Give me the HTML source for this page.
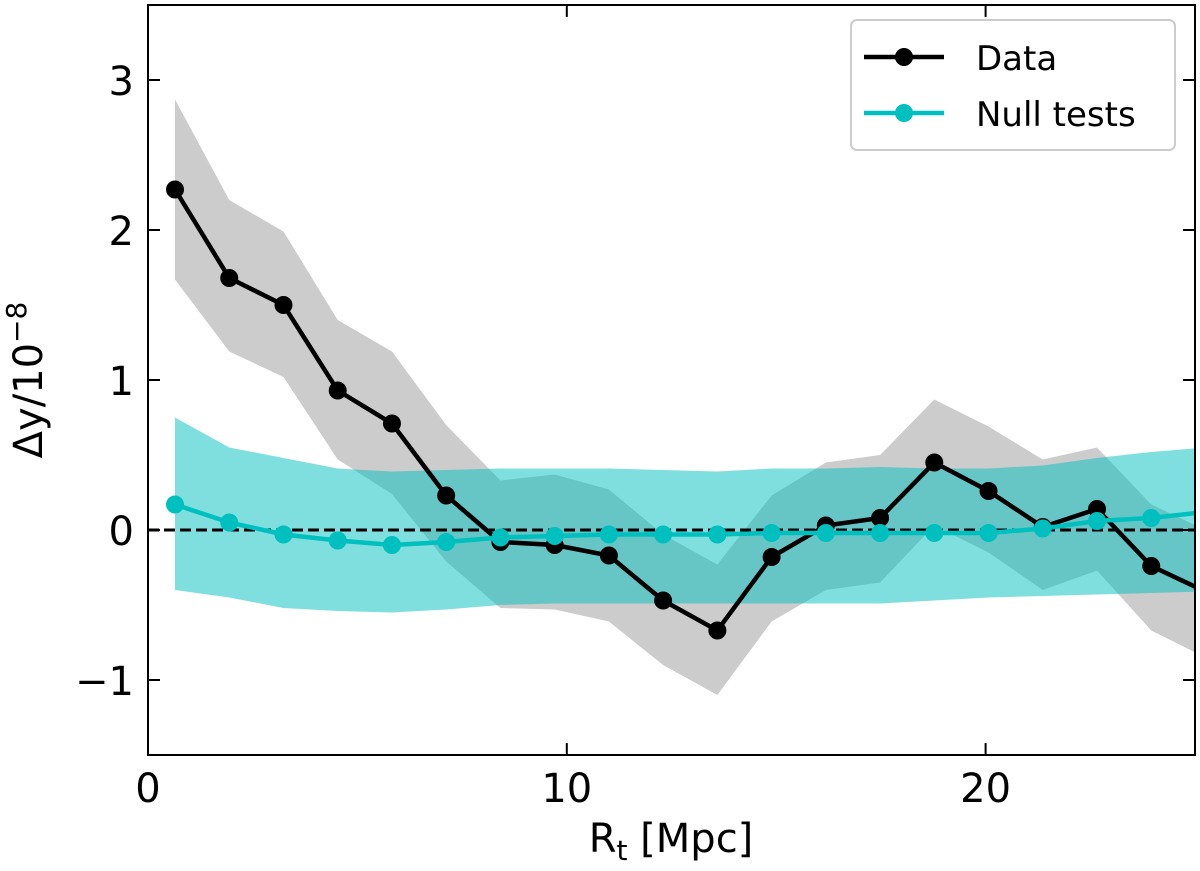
<!DOCTYPE html>
<html><head><meta charset="utf-8"><style>
body{margin:0;background:#fff;}
svg text{font-family:"DejaVu Sans","Liberation Sans",sans-serif;}
</style></head><body>
<svg id="chart" width="1200" height="866" viewBox="0 0 1200 866">
<defs><clipPath id="clip"><rect x="148" y="5" width="1047" height="750"/></clipPath></defs>
<g id="plot" clip-path="url(#clip)"></g>
<g id="axes"></g>
</svg>
<script>
const xs = [0.645,1.94,3.235,4.53,5.825,7.12,8.415,9.71,11.005,12.3,13.595,14.89,16.185,17.48,18.775,20.07,21.365,22.66,23.955,25.25];
const dataY = [2.27,1.68,1.50,0.93,0.71,0.23,-0.08,-0.10,-0.17,-0.47,-0.67,-0.18,0.03,0.08,0.45,0.26,0.02,0.14,-0.24,-0.41];
const dataHi = [2.87,2.2,1.99,1.4,1.19,0.7,0.33,0.37,0.27,-0.03,-0.23,0.23,0.45,0.5,0.87,0.69,0.47,0.55,0.17,0.0];
const dataLo = [1.67,1.19,1.02,0.47,0.24,-0.21,-0.52,-0.53,-0.61,-0.9,-1.1,-0.61,-0.4,-0.35,0.03,-0.15,-0.4,-0.27,-0.67,-0.85];
const nullY = [0.17,0.05,-0.03,-0.07,-0.1,-0.08,-0.05,-0.04,-0.03,-0.03,-0.03,-0.02,-0.02,-0.02,-0.02,-0.02,0.01,0.06,0.08,0.12];
const nullHi = [0.75,0.55,0.48,0.41,0.39,0.4,0.41,0.41,0.41,0.4,0.39,0.41,0.41,0.42,0.41,0.41,0.43,0.48,0.52,0.55];
const nullLo = [-0.4,-0.45,-0.52,-0.54,-0.55,-0.53,-0.5,-0.49,-0.49,-0.49,-0.49,-0.49,-0.49,-0.49,-0.47,-0.45,-0.44,-0.43,-0.42,-0.41];
const xTicks = [0,10,20];
const yTicks = [-1,0,1,2,3];
const yTickLabels = ["\u22121","0","1","2","3"];

const L=148,R=1195,T=5,B=755;
const X = v => L + (v-0)/(25-0)*(R-L);
const Y = v => B - (v+1.5)/(5)*(B-T);
const NS="http://www.w3.org/2000/svg";
const plot=document.getElementById('plot'), axes=document.getElementById('axes');
function mk(tag,attrs,parent){const e=document.createElementNS(NS,tag);for(const k in attrs)e.setAttribute(k,attrs[k]);parent.appendChild(e);return e;}
function band(hi,lo,fill,op,name){
  let d='M'+xs.map((x,i)=>X(x)+','+Y(hi[i])).join('L');
  for(let i=xs.length-1;i>=0;i--) d+='L'+X(xs[i])+','+Y(lo[i]);
  const p=mk('path',{d:d+'Z',fill:fill,'fill-opacity':op},plot);
  
  
}
band(dataHi,dataLo,'#000',0.2,'data-error-band');
band(nullHi,nullLo,'#00bfbf',0.5,'null-error-band');
const z=mk('line',{x1:L,x2:R,y1:Y(0),y2:Y(0),stroke:'#000','stroke-width':3,'stroke-dasharray':'11,5'},plot);


function series(ys,color,name){
  const l=mk('polyline',{points:xs.map((x,i)=>X(x)+','+Y(ys[i])).join(' '),fill:'none',stroke:color,'stroke-width':4.5},plot);
  
  
  xs.forEach((x,i)=>{const c=mk('circle',{cx:X(x),cy:Y(ys[i]),r:9,fill:color},plot);
    
    });
}
series(dataY,'#000','data');
series(nullY,'#00bfbf','null');
const f=mk('rect',{x:L,y:T,width:R-L,height:B-T,fill:'none',stroke:'#000','stroke-width':2},axes);


xTicks.forEach(v=>{
  mk('line',{x1:X(v),x2:X(v),y1:B,y2:B-12,stroke:'#000','stroke-width':2},axes);
  mk('line',{x1:X(v),x2:X(v),y1:T,y2:T+12,stroke:'#000','stroke-width':2},axes);
  const t=mk('text',{x:X(v),y:802,'font-size':40,'text-anchor':'middle'},axes);t.textContent=v;
  
  
});
yTicks.forEach((v,i)=>{
  mk('line',{x1:L,x2:L+12,y1:Y(v),y2:Y(v),stroke:'#000','stroke-width':2},axes);
  mk('line',{x1:R,x2:R-12,y1:Y(v),y2:Y(v),stroke:'#000','stroke-width':2},axes);
  const t=mk('text',{x:134,y:Y(v)+15,'font-size':40,'text-anchor':'end'},axes);t.textContent=yTickLabels[i];
  
  
});
</script>
<svg style="position:absolute;left:0;top:0" width="1200" height="866">
<text x="671" y="852" font-size="40" text-anchor="middle" font-family="DejaVu Sans, sans-serif">R<tspan font-size="28" dy="8">t</tspan><tspan dy="-8"> [Mpc]</tspan></text>
<text transform="translate(42,380) rotate(-90)" font-size="40" text-anchor="middle" font-family="DejaVu Sans, sans-serif">Δy/10<tspan font-size="28" dy="-16">−8</tspan></text>
<g>
<rect x="851" y="20" width="324" height="130" rx="6" fill="#fff" fill-opacity="0.8" stroke="#ccc" stroke-width="2"/>
<line x1="864" x2="944" y1="57" y2="57" stroke="#000" stroke-width="4.5"/><circle cx="904" cy="57" r="9" fill="#000"/>
<text x="976" y="70" font-size="34" font-family="DejaVu Sans, sans-serif">Data</text>
<line x1="864" x2="944" y1="113" y2="113" stroke="#00bfbf" stroke-width="4.5"/><circle cx="904" cy="113" r="9" fill="#00bfbf"/>
<text x="976" y="126" font-size="34" font-family="DejaVu Sans, sans-serif">Null tests</text>
</g>
</svg>
</body></html>
